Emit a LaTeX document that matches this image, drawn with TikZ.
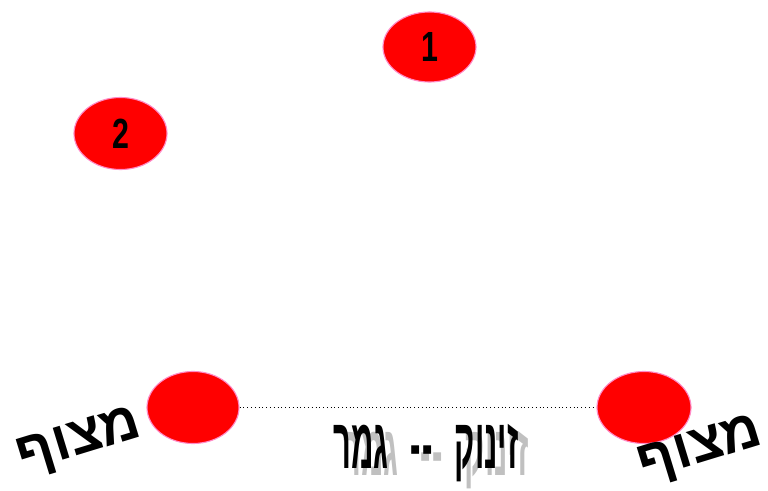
\documentclass[tikz,border=0pt]{standalone}
\usepackage{fontspec}
\usetikzlibrary{shapes.geometric}
\TeXXeTstate=1
\newfontfamily\hebfont[Script=Hebrew]{Liberation Sans}
\setsansfont{Liberation Sans}
\definecolor{buoyred}{RGB}{255,0,0}
\definecolor{buoyrim}{RGB}{255,140,200}
\definecolor{shadowgray}{RGB}{192,192,192}
\tikzset{
  buoy/.style={ellipse, fill=buoyred, draw=buoyrim, line width=0.8pt, inner sep=0pt},
  buoylabel/.style={font=\hebfont\bfseries\fontsize{39}{39}\selectfont, rotate=17},
}
\newcommand{\buoynum}[1]{\scalebox{0.72}[1]{\sffamily\bfseries\fontsize{30}{30}\selectfont #1}}
\newcommand{\racetext}{\scalebox{1.0}[2.3]{\hebfont\bfseries\fontsize{22}{22}\selectfont\beginR זינוק\hspace{0.7em}-\hspace{0.08em}-\hspace{0.7em}גמר\endR}}
\begin{document}
\begin{tikzpicture}[x=0.025cm, y=-0.025cm]
    \useasboundingbox (0,0) rectangle (768,491);
    \node[buoy, minimum width=2.325cm, minimum height=1.75cm] (one) at (429.5,47) {\buoynum{1}};
    \node[buoy, minimum width=2.325cm, minimum height=1.8cm] (two) at (120.5,133.5) {\buoynum{2}};
    \node[buoy, minimum width=2.3cm, minimum height=1.8cm] (start) at (193,407.5) {};
    \node[buoy, minimum width=2.35cm, minimum height=1.8cm] (finish) at (644,407.5) {};
    \draw[dotted, line width=0.7pt] (start) -- (finish);
    \node[buoylabel] (lbuoy) at (80,443) {\beginR מצוף\endR};
    \node[buoylabel] (rbuoy) at (701,451) {\beginR מצוף\endR};
    % start -- finish, with its shadow
    \node[text=shadowgray] (raceshadow) at (436,460) {\racetext};
    \node (race) at (426,453) {\racetext};
\end{tikzpicture}
\end{document}
